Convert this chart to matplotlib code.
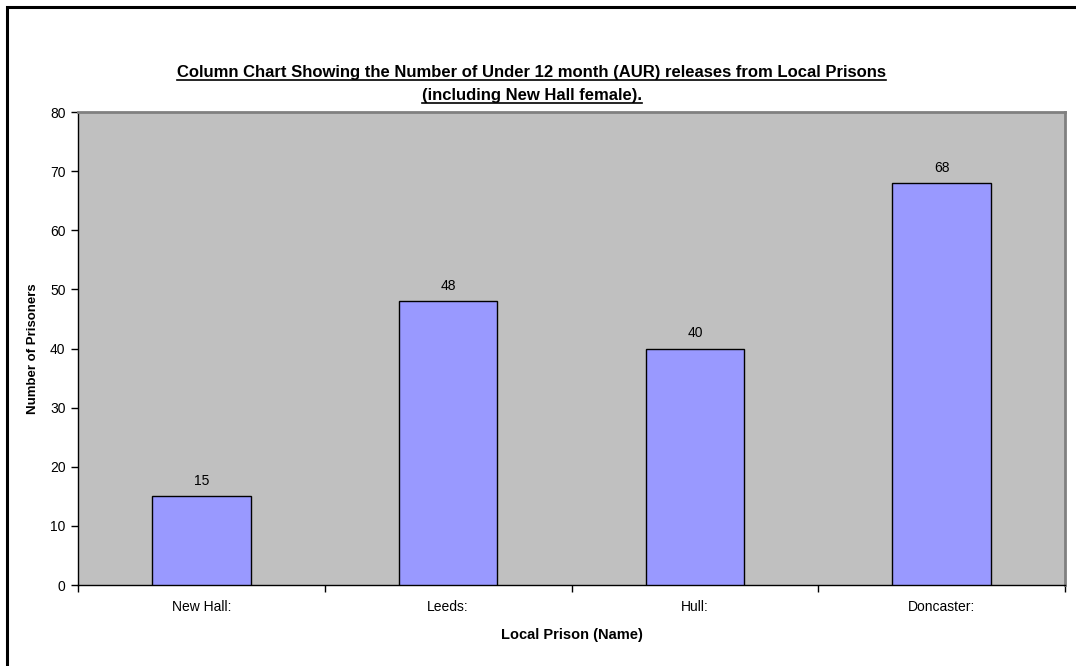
import matplotlib.pyplot as plt
from matplotlib.lines import Line2D
from matplotlib.patches import Rectangle

plt.rcParams['font.family'] = ['Liberation Sans', 'DejaVu Sans']

# data
prisons = ['New Hall:', 'Leeds:', 'Hull:', 'Doncaster:']
releases = [15, 48, 40, 68]
yticks = [0, 10, 20, 30, 40, 50, 60, 70, 80]

title_lines = ['Column Chart Showing the Number of Under 12 month (AUR) releases from Local Prisons',
               '(including New Hall female).']

fig = plt.figure(figsize=(10.76, 6.66), dpi=100)
ax = fig.add_axes([0.0725, 0.1216, 0.9173, 0.7102])
ax.set_facecolor('#C0C0C0')

x = range(len(prisons))
bars = ax.bar(x, releases, width=0.4, color='#9999FF', edgecolor='black', linewidth=1, zorder=3)
for xi, v in zip(x, releases):
    ax.annotate(str(v), (xi, v), xytext=(0, 6), textcoords='offset points',
                ha='center', va='bottom', fontsize=10)

ax.set_xlim(-0.5, len(prisons) - 0.5)
ax.set_ylim(0, 80)
ax.set_yticks(yticks)
ax.set_xticks(list(x))
ax.set_xticklabels(prisons, fontsize=10)
ax.set_xticks([i - 0.5 for i in range(len(prisons) + 1)], minor=True)
ax.tick_params(axis='x', which='major', length=0, pad=11)
ax.tick_params(axis='x', which='minor', length=5, direction='out', width=1)
ax.tick_params(axis='y', length=5, direction='out', width=1, labelsize=10, pad=4)

for s in ['top', 'right']:
    ax.spines[s].set_color('#808080')
    ax.spines[s].set_linewidth(2)
for s in ['left', 'bottom']:
    ax.spines[s].set_color('black')
    ax.spines[s].set_linewidth(1)

ax.set_xlabel('Local Prison (Name)', fontsize=10.5, fontweight='bold', labelpad=10)
ax.set_ylabel('Number of Prisoners', fontsize=9.5, fontweight='bold', labelpad=8)

# title, underlined
title_y = [0.885, 0.850]
texts = []
for line, ty in zip(title_lines, title_y):
    texts.append(fig.text(0.494, ty, line, ha='center', va='baseline',
                          fontsize=12, fontweight='bold'))
fig.canvas.draw()
r = fig.canvas.get_renderer()
for t, ty in zip(texts, title_y):
    bb = t.get_window_extent(r).transformed(fig.transFigure.inverted())
    fig.add_artist(Line2D([bb.x0, bb.x1], [ty - 0.0045, ty - 0.0045],
                          color='black', linewidth=1.2, transform=fig.transFigure))

# outer frame (left and top only visible)
fig.add_artist(Rectangle((0.0065, -0.1), 1.2, 1.0895, fill=False, edgecolor='black',
                         linewidth=2.2, transform=fig.transFigure))

fig.savefig('out.png', dpi=100)
